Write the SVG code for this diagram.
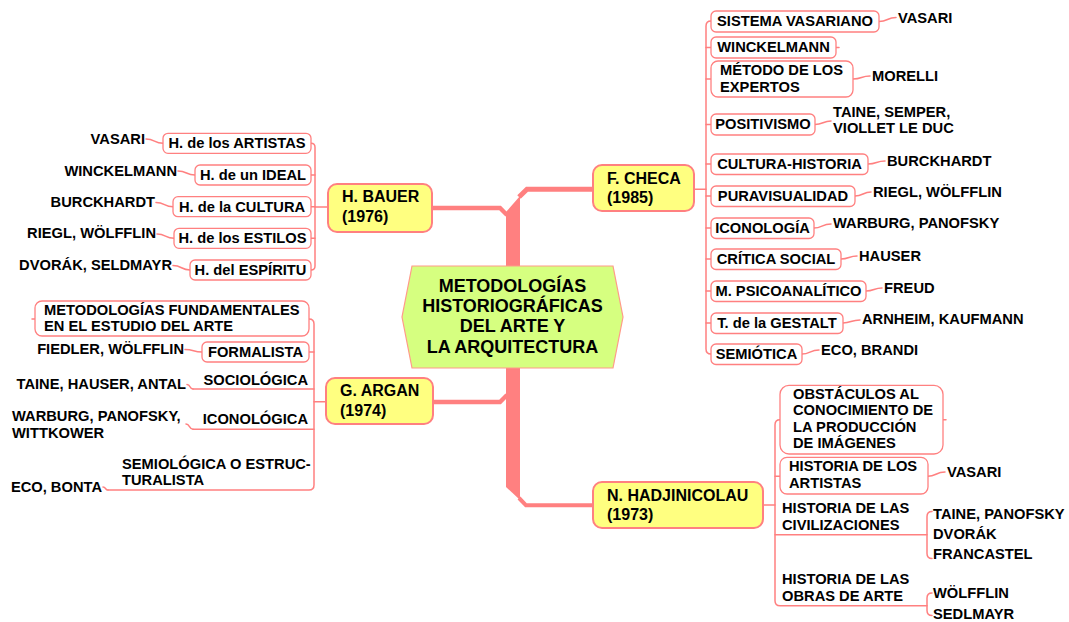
<svg xmlns="http://www.w3.org/2000/svg" width="1069" height="622" viewBox="0 0 1069 622">
  <style>
    text { font-family: "Liberation Sans", Arial, Helvetica, sans-serif; font-weight: bold; font-size: 14.7px; fill: #000; }
    .mid { text-anchor: middle; }
    .end { text-anchor: end; }
    .big { font-size: 16px; }
    .title { font-size: 18px; text-anchor: middle; }
    .ln { fill: none; stroke: #FF8080; stroke-width: 1.5; stroke-linecap: round; stroke-linejoin: round; }
    .thick { fill: none; stroke: #FF8080; stroke-linejoin: miter; }
    .box { fill: #FFFFFF; stroke: #FF8080; stroke-width: 1.3; }
    .main { fill: #FFFF80; stroke: #FF8080; stroke-width: 2; }
    .hex { fill: #D6FF80; stroke: #FF9A8A; stroke-width: 1.2; }
  </style>

  <!-- connectors -->
  <g id="connectors">
    <!-- central trunk and its four main branches -->
    <polygon points="506,212 520,196 520,500 506,487" fill="#FF8080"/>
    <polyline class="thick" points="432,208 500,208 507,215" stroke-width="4.3"/>
    <polyline class="thick" points="519,197 527,189.3 594,189.3" stroke-width="5"/>
    <polyline class="thick" points="433,402 500,402 507,395" stroke-width="4.3"/>
    <polyline class="thick" points="519,498 526,505.3 594,505.3" stroke-width="4"/>

    <!-- H. BAUER branch -->
    <path class="ln" d="M328 207 H315"/>
    <path class="ln" d="M311 143.3 Q315 143.3 315 147.3 V266 Q315 270 311 270"/>
    <path class="ln" d="M311 175 H315 M311 206.7 H315 M311 238.3 H315"/>
    <path class="ln" d="M146 139 C155 139 154 143.3 163 143.3"/>
    <path class="ln" d="M178 171 C187 171 186 175 195 175"/>
    <path class="ln" d="M156 202.5 C165 202.5 164 206.7 173 206.7"/>
    <path class="ln" d="M157 234 C166 234 165 238.3 174 238.3"/>
    <path class="ln" d="M173 265.5 C182 265.5 181 270 190 270"/>

    <!-- G. ARGAN branch -->
    <path class="ln" d="M326 401.7 H314"/>
    <path class="ln" d="M309 319 Q314 319 314 324 V485 Q314 490 309 490 H108"/>
    <path class="ln" d="M309 352 H314 M314 389 H193 M314 429.3 H193 M32 319 H35"/>
    <path class="ln" d="M185 349.5 C194 349.5 193 352 202 352"/>
    <path class="ln" d="M187 384.5 C191 384.5 189 389 193 389"/>
    <path class="ln" d="M186 424 C190 424 189 429.3 193 429.3"/>
    <path class="ln" d="M103 487 C106 487 105 490 108 490"/>

    <!-- F. CHECA branch -->
    <path class="ln" d="M694 189.3 H706"/>
    <path class="ln" d="M711 21 Q706 21 706 26 V349 Q706 354 711 354"/>
    <path class="ln" d="M706 47.5 H711 M706 79 H711 M706 124.5 H711 M706 164 H711 M706 196 H711 M706 228 H711 M706 259 H711 M706 291 H711 M706 323 H711"/>
    <path class="ln" d="M879 21.5 C888 21.5 887 17.5 896 17.5"/>
    <path class="ln" d="M836 47.5 H839"/>
    <path class="ln" d="M853 79 C862 79 861 76 870 76"/>
    <path class="ln" d="M815 124.5 C823 124.5 823 121 831 121"/>
    <path class="ln" d="M868 164 C877 164 876 161 885 161"/>
    <path class="ln" d="M855 196 C863 196 863 192 871 192"/>
    <path class="ln" d="M814 228 C822 228 822 224 831 224"/>
    <path class="ln" d="M841 259 C849 259 849 256 857 256"/>
    <path class="ln" d="M866 291 C874 291 874 288 882 288"/>
    <path class="ln" d="M843 323 C851 323 851 320 860 320"/>
    <path class="ln" d="M802 354 C810 354 810 350 819 350"/>

    <!-- N. HADJINICOLAU branch -->
    <path class="ln" d="M763 505 H775"/>
    <path class="ln" d="M780 419.7 Q775 419.7 775 424.7 V600.7 Q775 605.7 780 605.7 H927"/>
    <path class="ln" d="M775 476.3 H780 M775 534.7 H927 M943 419.7 H946"/>
    <path class="ln" d="M928 476.3 C936 476.3 936 472 945 472"/>
    <path class="ln" d="M932 511.5 Q927 511.5 927 516.5 V553.5 Q927 558.5 932 558.5"/>
    <path class="ln" d="M932 593 Q927 593 927 598 V610.5 Q927 615.5 932 615.5"/>
  </g>

  <!-- central topic -->
  <g id="center">
    <polygon class="hex" points="412,266 613,266 623,317 613,368 412,368 402,317"/>
    <text class="title" x="512.5" y="291.7">METODOLOGÍAS</text>
    <text class="title" x="512.5" y="311.7">HISTORIOGRÁFICAS</text>
    <text class="title" x="512.5" y="332.3">DEL ARTE Y</text>
    <text class="title" x="512.5" y="353.3">LA ARQUITECTURA</text>
  </g>

  <!-- H. BAUER -->
  <g id="bauer">
    <rect class="main" x="328" y="184" width="104" height="48" rx="9"/>
    <text class="big" x="342" y="202.3">H. BAUER</text>
    <text class="big" x="342" y="221.7">(1976)</text>
  </g>
  <g id="bauer-artistas">
    <rect class="box" x="163" y="133.3" width="148" height="20" rx="5"/>
    <text class="mid" x="237" y="148.3">H. de los ARTISTAS</text>
    <text class="end" x="145" y="144">VASARI</text>
  </g>
  <g id="bauer-ideal">
    <rect class="box" x="195" y="165" width="116" height="20" rx="5"/>
    <text class="mid" x="253" y="180">H. de un IDEAL</text>
    <text class="end" x="177" y="176">WINCKELMANN</text>
  </g>
  <g id="bauer-cultura">
    <rect class="box" x="173" y="196.7" width="138" height="20" rx="5"/>
    <text class="mid" x="242" y="211.7">H. de la CULTURA</text>
    <text class="end" x="155" y="207.3">BURCKHARDT</text>
  </g>
  <g id="bauer-estilos">
    <rect class="box" x="174" y="228.3" width="137" height="20" rx="5"/>
    <text class="mid" x="242.5" y="243.3">H. de los ESTILOS</text>
    <text class="end" x="156" y="238.3">RIEGL, WÖLFFLIN</text>
  </g>
  <g id="bauer-espiritu">
    <rect class="box" x="190" y="260" width="121" height="20" rx="5"/>
    <text class="mid" x="250.5" y="275">H. del ESPÍRITU</text>
    <text class="end" x="172" y="270">DVORÁK, SELDMAYR</text>
  </g>

  <!-- G. ARGAN -->
  <g id="argan">
    <rect class="main" x="326" y="378" width="107" height="46" rx="9"/>
    <text class="big" x="340" y="396">G. ARGAN</text>
    <text class="big" x="340" y="416">(1974)</text>
  </g>
  <g id="argan-fundamentales">
    <rect class="box" x="35" y="301" width="274" height="35" rx="7"/>
    <text x="44" y="315">METODOLOGÍAS FUNDAMENTALES</text>
    <text x="44" y="330.5">EN EL ESTUDIO DEL ARTE</text>
  </g>
  <g id="argan-formalista">
    <rect class="box" x="202" y="342" width="107" height="20" rx="5"/>
    <text class="mid" x="255.5" y="357">FORMALISTA</text>
    <text class="end" x="184" y="354">FIEDLER, WÖLFFLIN</text>
  </g>
  <g id="argan-sociologica">
    <text class="end" x="308" y="385">SOCIOLÓGICA</text>
    <text class="end" x="186" y="389.3">TAINE, HAUSER, ANTAL</text>
  </g>
  <g id="argan-iconologica">
    <text class="end" x="308" y="424.3">ICONOLÓGICA</text>
    <text x="12" y="421">WARBURG, PANOFSKY,</text>
    <text x="12" y="437.7">WITTKOWER</text>
  </g>
  <g id="argan-semiologica">
    <text x="122" y="469">SEMIOLÓGICA O ESTRUC-</text>
    <text x="122" y="485">TURALISTA</text>
    <text class="end" x="102" y="491.7">ECO, BONTA</text>
  </g>

  <!-- F. CHECA -->
  <g id="checa">
    <rect class="main" x="593" y="165" width="101" height="46" rx="9"/>
    <text class="big" x="607" y="184">F. CHECA</text>
    <text class="big" x="607" y="203.3">(1985)</text>
  </g>
  <g id="checa-vasariano">
    <rect class="box" x="711" y="11" width="168" height="21" rx="5"/>
    <text class="mid" x="795" y="26">SISTEMA VASARIANO</text>
    <text x="898" y="22.7">VASARI</text>
  </g>
  <g id="checa-winckelmann">
    <rect class="box" x="711" y="37" width="125" height="21" rx="5"/>
    <text class="mid" x="773.5" y="52.3">WINCKELMANN</text>
  </g>
  <g id="checa-expertos">
    <rect class="box" x="711" y="61" width="142" height="36" rx="7"/>
    <text x="720" y="75.3">MÉTODO DE LOS</text>
    <text x="720" y="91.7">EXPERTOS</text>
    <text x="872" y="80.7">MORELLI</text>
  </g>
  <g id="checa-positivismo">
    <rect class="box" x="711" y="114" width="104" height="21" rx="5"/>
    <text class="mid" x="763" y="129.3">POSITIVISMO</text>
    <text x="833" y="117.3">TAINE, SEMPER,</text>
    <text x="833" y="132.7">VIOLLET LE DUC</text>
  </g>
  <g id="checa-cultura">
    <rect class="box" x="711" y="154" width="157" height="20.5" rx="5"/>
    <text class="mid" x="789.5" y="169">CULTURA-HISTORIA</text>
    <text x="887" y="166">BURCKHARDT</text>
  </g>
  <g id="checa-puravisualidad">
    <rect class="box" x="711" y="186" width="144" height="20.5" rx="5"/>
    <text class="mid" x="783" y="201">PURAVISUALIDAD</text>
    <text x="873" y="196.7">RIEGL, WÖLFFLIN</text>
  </g>
  <g id="checa-iconologia">
    <rect class="box" x="711" y="218" width="103" height="20.5" rx="5"/>
    <text class="mid" x="762.5" y="233">ICONOLOGÍA</text>
    <text x="833" y="228.3">WARBURG, PANOFSKY</text>
  </g>
  <g id="checa-critica">
    <rect class="box" x="711" y="249" width="130" height="20.5" rx="5"/>
    <text class="mid" x="776" y="264">CRÍTICA SOCIAL</text>
    <text x="859" y="260.7">HAUSER</text>
  </g>
  <g id="checa-psicoanalitico">
    <rect class="box" x="711" y="281" width="155" height="20.5" rx="5"/>
    <text class="mid" x="788.5" y="296">M. PSICOANALÍTICO</text>
    <text x="884" y="292.7">FREUD</text>
  </g>
  <g id="checa-gestalt">
    <rect class="box" x="711" y="313" width="132" height="20.5" rx="5"/>
    <text class="mid" x="777" y="328">T. de la GESTALT</text>
    <text x="862" y="324.3">ARNHEIM, KAUFMANN</text>
  </g>
  <g id="checa-semiotica">
    <rect class="box" x="711" y="344" width="91" height="20.5" rx="5"/>
    <text class="mid" x="756.5" y="359">SEMIÓTICA</text>
    <text x="821" y="355">ECO, BRANDI</text>
  </g>

  <!-- N. HADJINICOLAU -->
  <g id="hadjinicolau">
    <rect class="main" x="593" y="482" width="170" height="46" rx="9"/>
    <text class="big" x="607" y="500.7">N. HADJINICOLAU</text>
    <text class="big" x="607" y="519.7">(1973)</text>
  </g>
  <g id="hadj-obstaculos">
    <rect class="box" x="780" y="385.3" width="163" height="68.7" rx="9"/>
    <text x="793" y="398.7">OBSTÁCULOS AL</text>
    <text x="793" y="415.3">CONOCIMIENTO DE</text>
    <text x="793" y="432">LA PRODUCCIÓN</text>
    <text x="793" y="448.3">DE IMÁGENES</text>
  </g>
  <g id="hadj-artistas">
    <rect class="box" x="780" y="457.3" width="148" height="36.7" rx="7"/>
    <text x="789" y="471.3">HISTORIA DE LOS</text>
    <text x="789" y="488">ARTISTAS</text>
    <text x="947" y="477.3">VASARI</text>
  </g>
  <g id="hadj-civilizaciones">
    <text x="782" y="513">HISTORIA DE LAS</text>
    <text x="782" y="529.7">CIVILIZACIONES</text>
    <text x="933" y="518.7">TAINE, PANOFSKY</text>
    <text x="933" y="539">DVORÁK</text>
    <text x="933" y="559">FRANCASTEL</text>
  </g>
  <g id="hadj-obras">
    <text x="782" y="584">HISTORIA DE LAS</text>
    <text x="782" y="600.7">OBRAS DE ARTE</text>
    <text x="933" y="598">WÖLFFLIN</text>
    <text x="933" y="618.7">SEDLMAYR</text>
  </g>
</svg>
